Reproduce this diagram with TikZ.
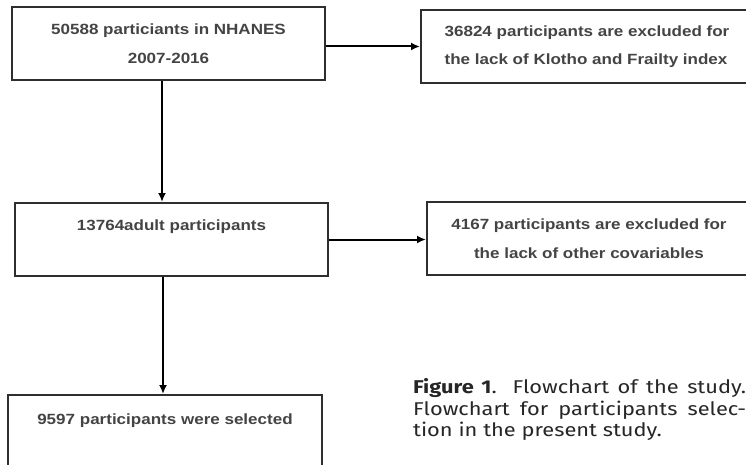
\documentclass[tikz,border=0pt]{standalone}
\usepackage{fontspec}
\usepackage{tikz}
\usetikzlibrary{arrows.meta}

\newfontfamily\boxfont[FakeStretch=1.15]{Liberation Sans}
\newfontfamily\capfont[FakeStretch=1.18]{Fira Sans}
\definecolor{boxgray}{HTML}{2E2E2E}
\definecolor{textgray}{HTML}{444444}

\begin{document}
\begin{tikzpicture}[x=1pt,y=-1pt,
  box/.style={draw=boxgray, line width=2pt, inner sep=0pt, minimum height=73pt,
    text=textgray, font=\boxfont\bfseries\fontsize{14.8}{28.5}\selectfont},
  arr/.style={-{Latex[length=9pt,width=8pt]}, line width=2pt}]
% Page and clipping: the right boxes run off the edge
\clip (0,0) rectangle (746,465);
\fill[white] (0,0) rectangle (746,465);

% Main column
\node[box, align=center, minimum width=313pt] (total) at (168.5,43.5)
  {50588 particiants in NHANES\\2007-2016};
\node[box, align=center, minimum width=313pt] (adult) at (171.5,239.5)
  {13764adult participants\\\mbox{}};
\node[box, align=center, minimum width=314pt, minimum height=76pt] (final) at (165,433)
  {9597 participants were selected\\\mbox{}};

% Exclusions
\node[box, align=left, minimum width=332pt] (excl1) at (587,46.5)
  {36824 participants are excluded for\\the lack of Klotho and Frailty index};
\node[box, align=center, minimum width=324pt] (excl2) at (589,238.5)
  {4167 participants are excluded for\\the lack of other covariables};

% Arrows down the column
\draw[arr] ([xshift=-6.5pt]total.south) -- ([xshift=-6.5pt]total.south |- adult.north);
\draw[arr] ([xshift=-8.5pt]adult.south) -- ([xshift=-8.5pt]adult.south |- final.north);

% Arrows to the exclusions
\draw[arr] (excl1.west -| total.east) -- (excl1.west);
\draw[arr] (adult.east) -- (adult.east -| excl2.west);

% Caption
\node[anchor=north west, text width=333pt, align=justify, inner sep=0pt,
  text=black!85, font=\capfont\fontsize{18.5}{21.5}\selectfont] (caption) at (413,378.5)
  {\textbf{Figure 1}. Flowchart of the study.\linebreak
   Flowchart for participants selec-\linebreak
   tion in the present study.};
\end{tikzpicture}
\end{document}
